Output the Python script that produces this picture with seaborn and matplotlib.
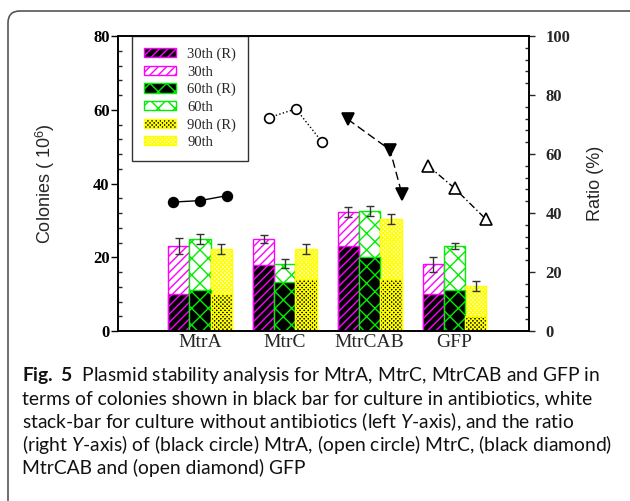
import pandas as pd
import seaborn as sns
import matplotlib.pyplot as plt
import matplotlib.patches as mpatches
import matplotlib.transforms as mtransforms
from matplotlib.ticker import MultipleLocator

# Data
strains = ["MtrA", "MtrC", "MtrCAB", "GFP"]
days = ["30th", "60th", "90th"]

# colonies (10^6), culture without antibiotics (full stacked bar)
total_30 = [23.0, 25.0, 32.2, 18.1]
total_60 = [25.0, 18.2, 32.5, 23.1]
total_90 = [22.2, 22.2, 30.3, 12.2]
# error bars
err_30 = [2.2, 1.1, 1.3, 2.1]
err_60 = [1.4, 1.2, 1.3, 0.9]
err_90 = [1.3, 1.4, 1.3, 1.4]
# colonies in antibiotics (R)
r_30 = [10.0, 18.0, 23.0, 10.0]
r_60 = [11.0, 13.4, 20.0, 11.0]
r_90 = [10.0, 14.1, 14.0, 4.2]

# ratio (%) per strain, 30th / 60th / 90th day
ratio_mtra = [43.7, 44.2, 45.9]
ratio_mtrc = [72.3, 75.3, 64.0]
ratio_mtrcab = [71.8, 61.4, 46.4]
ratio_gfp = [56.0, 48.4, 37.9]
# x offsets of the ratio points inside each group (category units)
ratio_off_mtra = [-0.32, 0.0, 0.32]
ratio_off_mtrc = [-0.19, 0.13, 0.44]
ratio_off_mtrcab = [-0.26, 0.24, 0.38]
ratio_off_gfp = [-0.31, 0.0, 0.37]

caption_lines = [
    r"$\mathbf{Fig.\ 5}$  Plasmid stability analysis for MtrA, MtrC, MtrCAB and GFP in",
    "terms of colonies shown in black bar for culture in antibiotics, white",
    r"stack-bar for culture without antibiotics (left $\mathit{Y}$-axis), and the ratio",
    r"(right $\mathit{Y}$-axis) of (black circle) MtrA, (open circle) MtrC, (black diamond)",
    "MtrCAB and (open diamond) GFP",
]

day_style = {
    "30th": ("#ff00ff", "////"),
    "60th": ("#00ee00", "xx"),
    "90th": ("#ffff00", "xxxxxxxx"),
}


def long_frame(a, b, c):
    rows = []
    for day, vals in zip(days, [a, b, c]):
        for s, v in zip(strains, vals):
            rows.append({"strain": s, "day": day, "value": v})
    return pd.DataFrame(rows)


def main():
    sns.set_theme(style="ticks")
    plt.rcParams["font.family"] = ["Liberation Serif", "DejaVu Sans"]
    plt.rcParams["hatch.linewidth"] = 1.0
    plt.rcParams["mathtext.fontset"] = "custom"
    plt.rcParams["mathtext.rm"] = "Liberation Sans"
    plt.rcParams["mathtext.it"] = "Lato:italic"
    plt.rcParams["mathtext.bf"] = "Lato:bold"

    fig = plt.figure(figsize=(6.3, 5.01), dpi=100)
    ax = fig.add_axes([118 / 630, 1 - 331 / 501, 411 / 630, 295 / 501])

    df_total = long_frame(total_30, total_60, total_90)
    df_r = long_frame(r_30, r_60, r_90)

    sns.barplot(data=df_total, x="strain", y="value", hue="day", width=0.75,
                errorbar=None, legend=False, ax=ax, palette=["white"] * 3)
    n_total = len(ax.containers)
    sns.barplot(data=df_r, x="strain", y="value", hue="day", width=0.75,
                errorbar=None, legend=False, ax=ax, palette=["black"] * 3)

    for i, cont in enumerate(ax.containers):
        day = days[i % 3]
        col, hatch = day_style[day]
        face = "white" if i < n_total else "black"
        for p in cont:
            p.set_facecolor(face)
            p.set_edgecolor(col)
            p.set_hatch(hatch)
            p.set_linewidth(1.0)

    # error bars on the stacked totals
    offsets = [-0.25, 0.0, 0.25]
    for off, tot, err in zip(offsets, [total_30, total_60, total_90],
                             [err_30, err_60, err_90]):
        xs = [k + off for k in range(len(strains))]
        ax.errorbar(xs, tot, yerr=err, fmt="none", ecolor="#333333",
                    elinewidth=1.0, capsize=3, capthick=1.0, zorder=5)

    ax.set_xlim(-0.967, 3.878)
    ax.set_ylim(0, 80)
    ax.yaxis.set_major_locator(MultipleLocator(20))
    ax.yaxis.set_minor_locator(MultipleLocator(4))
    ax.tick_params(axis="y", which="major", direction="out", length=5,
                   width=1, labelsize=12, pad=1, colors="black")
    ax.tick_params(axis="y", which="minor", direction="in", length=3, width=1)
    ax.tick_params(axis="x", length=0, labelsize=14, pad=2)
    ax.set_xlabel("")
    ax.set_ylabel("Colonies ( 10$^{6}$)", fontsize=13,
                  fontfamily="Liberation Sans")
    ax.yaxis.set_label_coords(-0.148, 0.5)
    for lbl in ax.get_yticklabels():
        lbl.set_fontweight("bold")
    for side in ["left", "right", "top", "bottom"]:
        ax.spines[side].set_visible(True)
        ax.spines[side].set_color("black")
        ax.spines[side].set_linewidth(1.2)

    handles = []
    for day in days:
        col, hatch = day_style[day]
        handles.append(mpatches.Patch(facecolor="black", edgecolor=col,
                                      hatch=hatch, label=f"{day} (R)"))
        handles.append(mpatches.Patch(facecolor="white", edgecolor=col,
                                      hatch=hatch, label=day))
    leg = ax.legend(handles=handles, loc="upper left",
                    bbox_to_anchor=(0.034, 1.0), borderaxespad=0,
                    fancybox=False, framealpha=1, edgecolor="#333333",
                    prop={"family": "Liberation Serif", "size": 10.5},
                    handlelength=2.2, handleheight=0.6, labelspacing=0.3,
                    borderpad=0.8, handletextpad=0.8)
    leg.get_frame().set_linewidth(1.0)

    # ratio on the right axis
    ax2 = ax.twinx()
    series = [
        (ratio_mtra, ratio_off_mtra, "o", "black", "-"),
        (ratio_mtrc, ratio_off_mtrc, "o", "white", ":"),
        (ratio_mtrcab, ratio_off_mtrcab, "v", "black", (0, (6, 3))),
        (ratio_gfp, ratio_off_gfp, "^", "white", (0, (5, 2, 1, 2))),
    ]
    for k, (vals, offs, mk, mfc, ls) in enumerate(series):
        xs = [k + o for o in offs]
        sns.lineplot(x=xs, y=vals, ax=ax2, color="black", linewidth=1.0,
                     linestyle=ls, marker=mk, markersize=8 if mk != "o" else 7,
                     markerfacecolor=mfc, markeredgecolor="black",
                     markeredgewidth=1.2, sort=False)
    ax2.set_ylim(0, 100)
    ax2.set_xlim(-0.967, 3.878)
    ax2.yaxis.set_major_locator(MultipleLocator(20))
    ax2.yaxis.set_minor_locator(MultipleLocator(4))
    ax2.tick_params(axis="y", which="major", direction="out", length=4,
                    width=1, labelsize=12, pad=8)
    ax2.tick_params(axis="y", which="minor", direction="in", length=3, width=1)
    ax2.set_ylabel("Ratio (%)", fontsize=13, fontfamily="Liberation Sans")
    ax2.yaxis.set_label_coords(1.141, 0.5)
    for lbl in ax2.get_yticklabels():
        lbl.set_fontweight("bold")
    for side in ["left", "right", "top", "bottom"]:
        ax2.spines[side].set_color("black")
        ax2.spines[side].set_linewidth(1.2)

    # rounded frame around figure + caption
    frame = mpatches.FancyBboxPatch((8, -40), 660, 530,
                                    boxstyle="round,pad=0,rounding_size=12",
                                    facecolor="none", edgecolor="#555555",
                                    linewidth=1.2,
                                    transform=mtransforms.IdentityTransform())
    fig.add_artist(frame)

    for j, line in enumerate(caption_lines):
        fig.text(22 / 630, 1 - (376 + 23 * j) / 501, line, ha="left",
                 va="center", fontsize=13.85, fontfamily="Lato", color="#111111")

    fig.savefig("out.png", dpi=100)
    plt.close(fig)


if __name__ == "__main__":
    main()
